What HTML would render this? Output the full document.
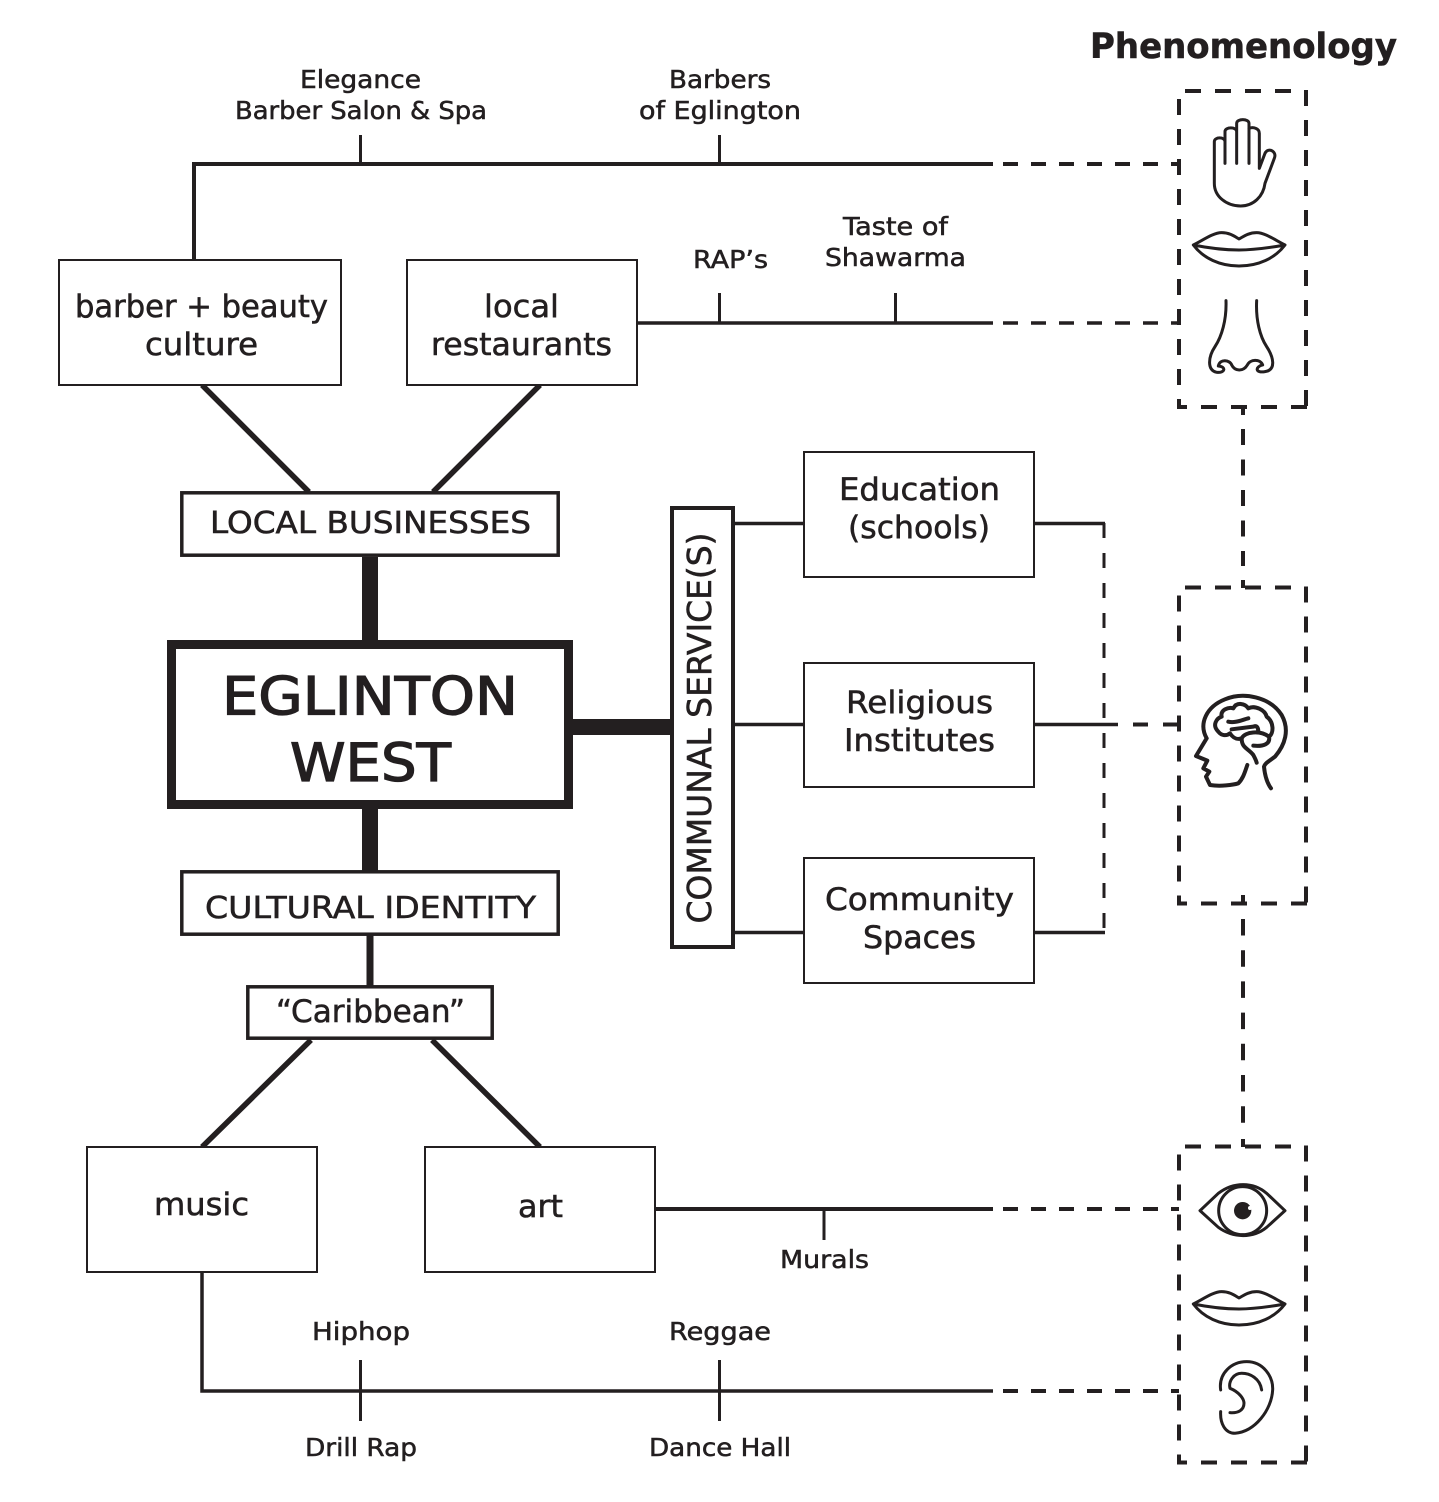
<!DOCTYPE html>
<html><head><meta charset="utf-8"><style>
html,body{margin:0;padding:0;background:#fff}
svg{display:block}
text{font-family:"DejaVu Sans","Liberation Sans",sans-serif;fill:#231f20;stroke:#231f20;stroke-width:.55}
.b{fill:#fff;stroke:#231f20;stroke-width:2}
.l{fill:none;stroke:#231f20}
.d{fill:none;stroke:#231f20;stroke-width:4;stroke-dasharray:15 13}
.i{fill:none;stroke:#231f20;stroke-width:9;stroke-linecap:round;stroke-linejoin:round}
</style></head><body>
<svg xmlns="http://www.w3.org/2000/svg" width="1439" height="1502" viewBox="0 0 1439 1502">
<rect width="1439" height="1502" fill="#fff"/>
<!-- connectors -->
<path class="l" stroke-width="4" d="M194 260V164H993"/>
<path class="l" stroke-width="3" d="M360.500 135V164M719.500 135V164"/>
<path class="d" d="M1003 164H1179"/>
<path class="l" stroke-width="3.500" d="M637 323H993"/>
<path class="l" stroke-width="3" d="M719.500 293V323M895.500 293V323"/>
<path class="d" style="stroke-width:3.500" d="M1003 323H1179"/>
<path class="l" stroke-width="5.500" d="M202 385L309 492M540 385L433 492M311 1040L202 1147M432 1040L540 1147"/>
<path class="l" stroke-width="16" d="M370 557V641M370 808V871M573 727H672"/>
<path class="l" stroke-width="7" d="M370 934V986"/>
<path class="l" stroke-width="4" d="M655 1209H993"/>
<path class="l" stroke-width="3" d="M824 1209V1240"/>
<path class="d" d="M1003 1209H1179"/>
<path class="l" stroke-width="3.500" d="M202 1272V1391H993"/>
<path class="l" stroke-width="3" d="M360.500 1360V1421M719.500 1360V1421"/>
<path class="d" d="M1003 1391H1179"/>
<path class="l" stroke-width="3.500" d="M735 523.500H804M735 724.500H804M735 932.500H804M1034 523.500H1105M1034 724.500H1118M1034 932.500H1105"/>
<path class="l" stroke-width="3" stroke-dasharray="15 15" d="M1104 523V932"/>
<path class="d" d="M1133 724.500H1149M1163 724.500H1179"/>
<path fill="none" stroke="#231f20" stroke-width="4" stroke-dasharray="16 14.500" d="M1243 429V566M1243 580V588"/>
<path fill="none" stroke="#231f20" stroke-width="4" d="M1243 408V415M1243 895V904"/>
<path fill="none" stroke="#231f20" stroke-width="4" stroke-dasharray="16.500 14.700" d="M1243 919V1125"/>
<path fill="none" stroke="#231f20" stroke-width="4" d="M1243 1139V1147"/>
<!-- boxes -->
<rect class="b" x="59" y="260" width="282" height="125"/>
<rect class="b" x="407" y="260" width="230" height="125"/>
<rect class="b" x="804" y="452" width="230" height="125"/>
<rect class="b" x="804" y="663" width="230" height="124"/>
<rect class="b" x="804" y="858" width="230" height="125"/>
<rect class="b" x="87" y="1147" width="230" height="125"/>
<rect class="b" x="425" y="1147" width="230" height="125"/>
<rect class="b" style="stroke-width:3.500" x="181.800" y="492.800" width="376.400" height="62.400"/>
<rect class="b" style="stroke-width:3.500" x="181.800" y="871.800" width="376.400" height="62.400"/>
<rect class="b" style="stroke-width:3.500" x="247.800" y="986.800" width="244.400" height="51.400"/>
<rect class="b" style="stroke-width:9" x="171.500" y="644.500" width="397" height="160"/>
<rect class="b" style="stroke-width:4" x="672" y="508" width="61" height="439"/>
<!-- dashed panels -->
<g id="panel" fill="none" stroke="#231f20" stroke-width="4">
<path stroke-dasharray="16 14" d="M1179 99V407"/>
<path stroke-dasharray="16 14" d="M1306 90V406"/>
<path stroke-dasharray="16 14" d="M1185 91H1295"/>
<path d="M1177 407H1187"/>
<path stroke-dasharray="16 14" d="M1201 407H1307"/>
</g>
<use href="#panel" y="496.500"/>
<use href="#panel" y="1055.500"/>
<!-- icons -->
<g transform="translate(1170 80) scale(.3333)">
<path class="i" d="M133 310V185C133 170 165 170 165 185M165 250V155C165 140 200 140 200 155V250M200 155V130C200 115 237 115 237 130V250M237 145C250 140 268 145 268 160V265L285 220C295 200 322 215 313 235L285 310C280 350 250 378 212 378C170 378 133 350 133 310"/>
<path class="i" d="M70 495C100 480 130 458 155 458C180 458 195 470 207 477C220 470 235 458 260 458C285 458 315 480 345 495C300 503 250 510 207 510C165 510 110 503 70 495ZM70 495C100 535 150 558 207 558C265 558 315 535 345 495"/>
<path class="i" d="M168 662C170 720 155 770 135 800C115 830 110 870 140 877C165 880 170 860 145 858C150 835 180 840 185 855C195 875 220 875 232 855C240 838 270 835 278 855C255 860 255 880 285 875C320 870 310 830 290 800C270 770 257 720 260 662"/>
</g>
<g transform="translate(1170 670) scale(.3333)">
<path class="i" style="stroke-width:12" d="M110 205C85 160 110 110 165 88C220 65 300 80 335 135C360 180 345 225 315 260C295 275 285 280 282 290C285 320 292 340 303 355M110 205L78 258L112 272L100 295L118 305L108 320L120 345C150 350 190 345 205 340C220 325 225 305 232 285M145 185C125 165 140 145 155 140C150 120 175 110 190 115C200 95 225 100 235 115C255 105 285 120 290 140C312 155 312 190 297 200C302 222 280 230 250 227M145 185C155 198 170 198 180 190C190 205 200 210 215 205C215 235 235 235 250 255C255 265 258 270 260 278M175 155C195 160 215 150 235 145M185 178L250 170C262 165 265 175 265 185M215 205C225 185 270 180 297 200"/>
</g>
<g transform="translate(1170 1140) scale(.3333)">
<path class="i" d="M90 212L145 160C190 125 250 125 290 160L345 212L290 262C250 295 190 295 145 262Z"/>
<circle class="i" cx="218" cy="212" r="72"/>
<circle cx="218" cy="212" r="26" fill="#231f20"/>
<circle cx="240" cy="204" r="6" fill="#fff"/>
<path class="i" transform="translate(0 -3)" d="M70 495C100 480 130 458 155 458C180 458 195 470 207 477C220 470 235 458 260 458C285 458 315 480 345 495C300 503 250 510 207 510C165 510 110 503 70 495ZM70 495C100 535 150 558 207 558C265 558 315 535 345 495"/>
<path class="i" d="M152 750C145 700 185 665 230 665C280 665 310 710 308 750C305 810 255 875 195 880C165 880 150 850 152 815M275 750C270 715 240 700 215 700C190 700 175 725 180 745C205 755 222 775 222 790C222 810 205 820 180 818"/>
</g>
<!-- text -->
<text x="1090" y="58" font-size="35" font-weight="bold" textLength="307" lengthAdjust="spacingAndGlyphs">Phenomenology</text>
<text x="300" y="88" font-size="25" textLength="121" lengthAdjust="spacingAndGlyphs">Elegance</text>
<text x="235" y="119" font-size="25" textLength="252" lengthAdjust="spacingAndGlyphs">Barber Salon &amp; Spa</text>
<text x="669" y="88" font-size="25" textLength="102" lengthAdjust="spacingAndGlyphs">Barbers</text>
<text x="639" y="119" font-size="25" textLength="162" lengthAdjust="spacingAndGlyphs">of Eglington</text>
<text x="693" y="268" font-size="25" textLength="75" lengthAdjust="spacingAndGlyphs">RAP’s</text>
<text x="843" y="235" font-size="25" textLength="105" lengthAdjust="spacingAndGlyphs">Taste of</text>
<text x="825" y="266" font-size="25" textLength="141" lengthAdjust="spacingAndGlyphs">Shawarma</text>
<text x="75" y="317" font-size="31" textLength="253" lengthAdjust="spacingAndGlyphs">barber + beauty</text>
<text x="145" y="355" font-size="31" textLength="113" lengthAdjust="spacingAndGlyphs">culture</text>
<text x="484" y="317" font-size="31" textLength="75" lengthAdjust="spacingAndGlyphs">local</text>
<text x="431" y="355" font-size="31" textLength="181" lengthAdjust="spacingAndGlyphs">restaurants</text>
<text x="210" y="533" font-size="30" textLength="321" lengthAdjust="spacingAndGlyphs">LOCAL BUSINESSES</text>
<text x="222" y="714.500" font-size="53" style="stroke-width:1.300" textLength="296" lengthAdjust="spacingAndGlyphs">EGLINTON</text>
<text x="290" y="781" font-size="53" style="stroke-width:1.300" textLength="161" lengthAdjust="spacingAndGlyphs">WEST</text>
<text x="205" y="918" font-size="30" textLength="331" lengthAdjust="spacingAndGlyphs">CULTURAL IDENTITY</text>
<text x="276" y="1022" font-size="31" textLength="189" lengthAdjust="spacingAndGlyphs">“Caribbean”</text>
<text transform="translate(711 923.500) rotate(-90)" font-size="33" textLength="391" lengthAdjust="spacingAndGlyphs">COMMUNAL SERVICE(S)</text>
<text x="839" y="500" font-size="31" textLength="161" lengthAdjust="spacingAndGlyphs">Education</text>
<text x="848" y="538" font-size="31" textLength="142" lengthAdjust="spacingAndGlyphs">(schools)</text>
<text x="846" y="713" font-size="31" textLength="147" lengthAdjust="spacingAndGlyphs">Religious</text>
<text x="844" y="751" font-size="31" textLength="151" lengthAdjust="spacingAndGlyphs">Institutes</text>
<text x="825" y="910" font-size="31" textLength="189" lengthAdjust="spacingAndGlyphs">Community</text>
<text x="863" y="948" font-size="31" textLength="113" lengthAdjust="spacingAndGlyphs">Spaces</text>
<text x="154" y="1215" font-size="31" textLength="95" lengthAdjust="spacingAndGlyphs">music</text>
<text x="518" y="1217" font-size="31" textLength="45" lengthAdjust="spacingAndGlyphs">art</text>
<text x="780" y="1268" font-size="25" textLength="89" lengthAdjust="spacingAndGlyphs">Murals</text>
<text x="312" y="1340" font-size="25" textLength="98" lengthAdjust="spacingAndGlyphs">Hiphop</text>
<text x="669" y="1340" font-size="25" textLength="102" lengthAdjust="spacingAndGlyphs">Reggae</text>
<text x="305" y="1456" font-size="25" textLength="112" lengthAdjust="spacingAndGlyphs">Drill Rap</text>
<text x="649" y="1456" font-size="25" textLength="142" lengthAdjust="spacingAndGlyphs">Dance Hall</text>
</svg>
</body></html>
